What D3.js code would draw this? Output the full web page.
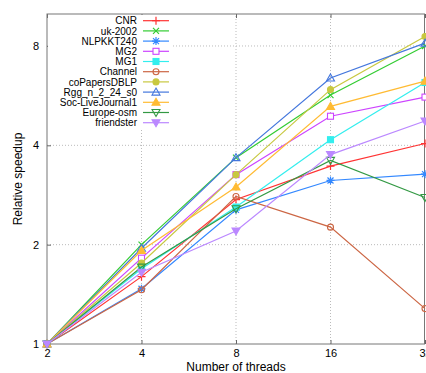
<!DOCTYPE html>
<html>
<head>
<meta charset="utf-8">
<script src="https://cdn.jsdelivr.net/npm/d3@7"></script>
<style>
  body { margin: 0; background: #fff; }
  text { font-family: "Liberation Sans", Arial, sans-serif; fill: #000; }
</style>
</head>
<body>
<div id="vis-holder"></div>
<script>
// Chart size and plot frame
const width = 426;
const height = 373;
const margin = { top: 14, right: 1, bottom: 29, left: 47 };

// Data
const threads = [2, 4, 8, 16, 32];
const seriesNames = ["CNR", "uk-2002", "NLPKKT240", "MG2", "MG1", "Channel",
  "coPapersDBLP", "Rgg_n_2_24_s0", "Soc-LiveJournal1", "Europe-osm", "friendster"];
const CNR        = [1, 1.60, 2.74, 3.46, 4.05];
const uk2002     = [1, 2.00, 3.67, 5.68, 8.00];
const NLPKKT240  = [1, 1.47, 2.55, 3.13, 3.27];
const MG2        = [1, 1.82, 3.26, 4.90, 5.60];
const MG1        = [1, 1.69, 2.60, 4.16, 6.20];
const Channel    = [1, 1.46, 2.80, 2.26, 1.28];
const coPapers   = [1, 1.76, 3.26, 5.90, 8.55];
const Rgg        = [1, 1.95, 3.67, 6.40, 8.16];
const SocLJ      = [1, 1.92, 2.99, 5.25, 6.26];
const EuropeOsm  = [1, 1.71, 2.57, 3.60, 2.78];
const friendster = [1, 1.65, 2.20, 3.75, 4.74];
const allValues = [CNR, uk2002, NLPKKT240, MG2, MG1, Channel, coPapers, Rgg, SocLJ, EuropeOsm, friendster];
const yTicks = [1, 2, 4, 8];

// Style per series
const colors = ["#ff3333", "#33cc33", "#3388ff", "#cc44ff", "#33eeee", "#cc6644",
  "#c8c840", "#4477dd", "#ffbb33", "#339944", "#bb88ff"];
const markers = ["plus", "cross", "star", "square", "squareF", "circle",
  "circleF", "tri", "triF", "triDown", "triDownF"];

const svg = d3.select("#vis-holder")
  .append("svg")
  .attr("width", width)
  .attr("height", height);

const x = d3.scaleLog().base(2)
  .domain([2, 32])
  .range([margin.left, width - margin.right]);

const y = d3.scaleLog().base(2)
  .domain([1, 10])
  .range([height - margin.bottom, margin.top]);

const x0 = margin.left, x1 = width - margin.right;
const y0 = height - margin.bottom, y1 = margin.top;

// Grid lines
svg.append("g")
  .selectAll("line")
  .data(threads.slice(1, -1))
  .enter().append("line")
  .attr("x1", d => x(d)).attr("x2", d => x(d))
  .attr("y1", y0).attr("y2", y1)
  .attr("stroke", "#bbb").attr("stroke-dasharray", "1,2");

svg.append("g")
  .selectAll("line")
  .data(yTicks.slice(1))
  .enter().append("line")
  .attr("x1", x0).attr("x2", x1)
  .attr("y1", d => y(d)).attr("y2", d => y(d))
  .attr("stroke", "#bbb").attr("stroke-dasharray", "1,2");

// Axes (ticks drawn inward)
svg.append("g")
  .attr("transform", `translate(0,${y0})`)
  .call(d3.axisBottom(x).tickValues(threads).tickFormat(d3.format("d")).tickSize(-4).tickPadding(5))
  .call(g => g.select(".domain").remove())
  .call(g => g.selectAll("line").attr("stroke", "#666"))
  .call(g => g.selectAll("text").attr("font-size", "11px").attr("font-family", "Liberation Sans, Arial, sans-serif"));

svg.append("g")
  .attr("transform", `translate(0,${y1})`)
  .call(d3.axisTop(x).tickValues(threads).tickFormat("").tickSize(-4))
  .call(g => g.select(".domain").remove())
  .call(g => g.selectAll("line").attr("stroke", "#666"));

svg.append("g")
  .attr("transform", `translate(${x0},0)`)
  .call(d3.axisLeft(y).tickValues(yTicks).tickFormat(d3.format("d")).tickSize(-4).tickPadding(8))
  .call(g => g.select(".domain").remove())
  .call(g => g.selectAll("line").attr("stroke", "#666"))
  .call(g => g.selectAll("text").attr("font-size", "11px").attr("font-family", "Liberation Sans, Arial, sans-serif"));

// Frame
svg.append("rect")
  .attr("x", x0).attr("y", y1)
  .attr("width", x1 - x0 - 0.5).attr("height", y0 - y1)
  .attr("fill", "none").attr("stroke", "#777");

// Axis titles
svg.append("text")
  .attr("x", (x0 + x1) / 2).attr("y", 371)
  .attr("text-anchor", "middle").attr("font-size", "12px")
  .text("Number of threads");

svg.append("text")
  .attr("transform", `translate(22,${(y0 + y1) / 2}) rotate(-90)`)
  .attr("text-anchor", "middle").attr("font-size", "12px")
  .text("Relative speedup");

// Marker drawing
function drawMarker(g, type, color, cx, cy) {
  const s = 3;
  const m = g.append("g").attr("transform", `translate(${cx},${cy})`);
  if (type === "plus") {
    m.append("path").attr("d", `M${-s - 1},0H${s + 1}M0,${-s - 1}V${s + 1}`).attr("stroke", color).attr("stroke-width", 1.2);
  } else if (type === "cross") {
    m.append("path").attr("d", `M${-s},${-s}L${s},${s}M${-s},${s}L${s},${-s}`).attr("stroke", color).attr("stroke-width", 1.2);
  } else if (type === "star") {
    m.append("path").attr("d", `M${-s},${-s}L${s},${s}M${-s},${s}L${s},${-s}M0,${-s - 1}V${s + 1}M${-s - 1},0H${s + 1}`).attr("stroke", color).attr("stroke-width", 1.2);
  } else if (type === "square" || type === "squareF") {
    m.append("rect").attr("x", -s).attr("y", -s).attr("width", 2 * s).attr("height", 2 * s)
      .attr("fill", type === "squareF" ? color : "#fff").attr("stroke", color).attr("stroke-width", 1.1);
  } else if (type === "circle" || type === "circleF") {
    m.append("circle").attr("r", s)
      .attr("fill", type === "circleF" ? color : "none").attr("stroke", color).attr("stroke-width", 1.1);
  } else if (type === "tri" || type === "triF") {
    m.append("path").attr("d", `M0,${-s - 1}L${s + 1},${s}L${-s - 1},${s}Z`)
      .attr("fill", type === "triF" ? color : "none").attr("stroke", color).attr("stroke-width", 1.1);
  } else {
    m.append("path").attr("d", `M0,${s + 1}L${s + 1},${-s}L${-s - 1},${-s}Z`)
      .attr("fill", type === "triDownF" ? color : "none").attr("stroke", color).attr("stroke-width", 1.1);
  }
}

// Lines and points
const line = d3.line()
  .x((d, i) => x(threads[i]))
  .y(d => y(d));

allValues.forEach((vals, k) => {
  const g = svg.append("g");
  g.append("path")
    .datum(vals)
    .attr("d", line)
    .attr("fill", "none")
    .attr("stroke", colors[k])
    .attr("stroke-width", 1.2);
  vals.forEach((v, i) => drawMarker(g, markers[k], colors[k], x(threads[i]), y(v)));
});

// Legend
const legend = svg.append("g");
legend.append("rect")
  .attr("x", x0 + 1).attr("y", y1 + 1)
  .attr("width", 125).attr("height", 114)
  .attr("fill", "#fff");

seriesNames.forEach((name, k) => {
  const ly = 20.7 + k * 10.2;
  legend.append("text")
    .attr("x", 137).attr("y", ly + 3.6)
    .attr("text-anchor", "end").attr("font-size", "10px")
    .text(name);
  legend.append("line")
    .attr("x1", 143).attr("x2", 169)
    .attr("y1", ly).attr("y2", ly)
    .attr("stroke", colors[k]).attr("stroke-width", 1.2);
  drawMarker(legend, markers[k], colors[k], 156, ly);
});
</script>
</body>
</html>
